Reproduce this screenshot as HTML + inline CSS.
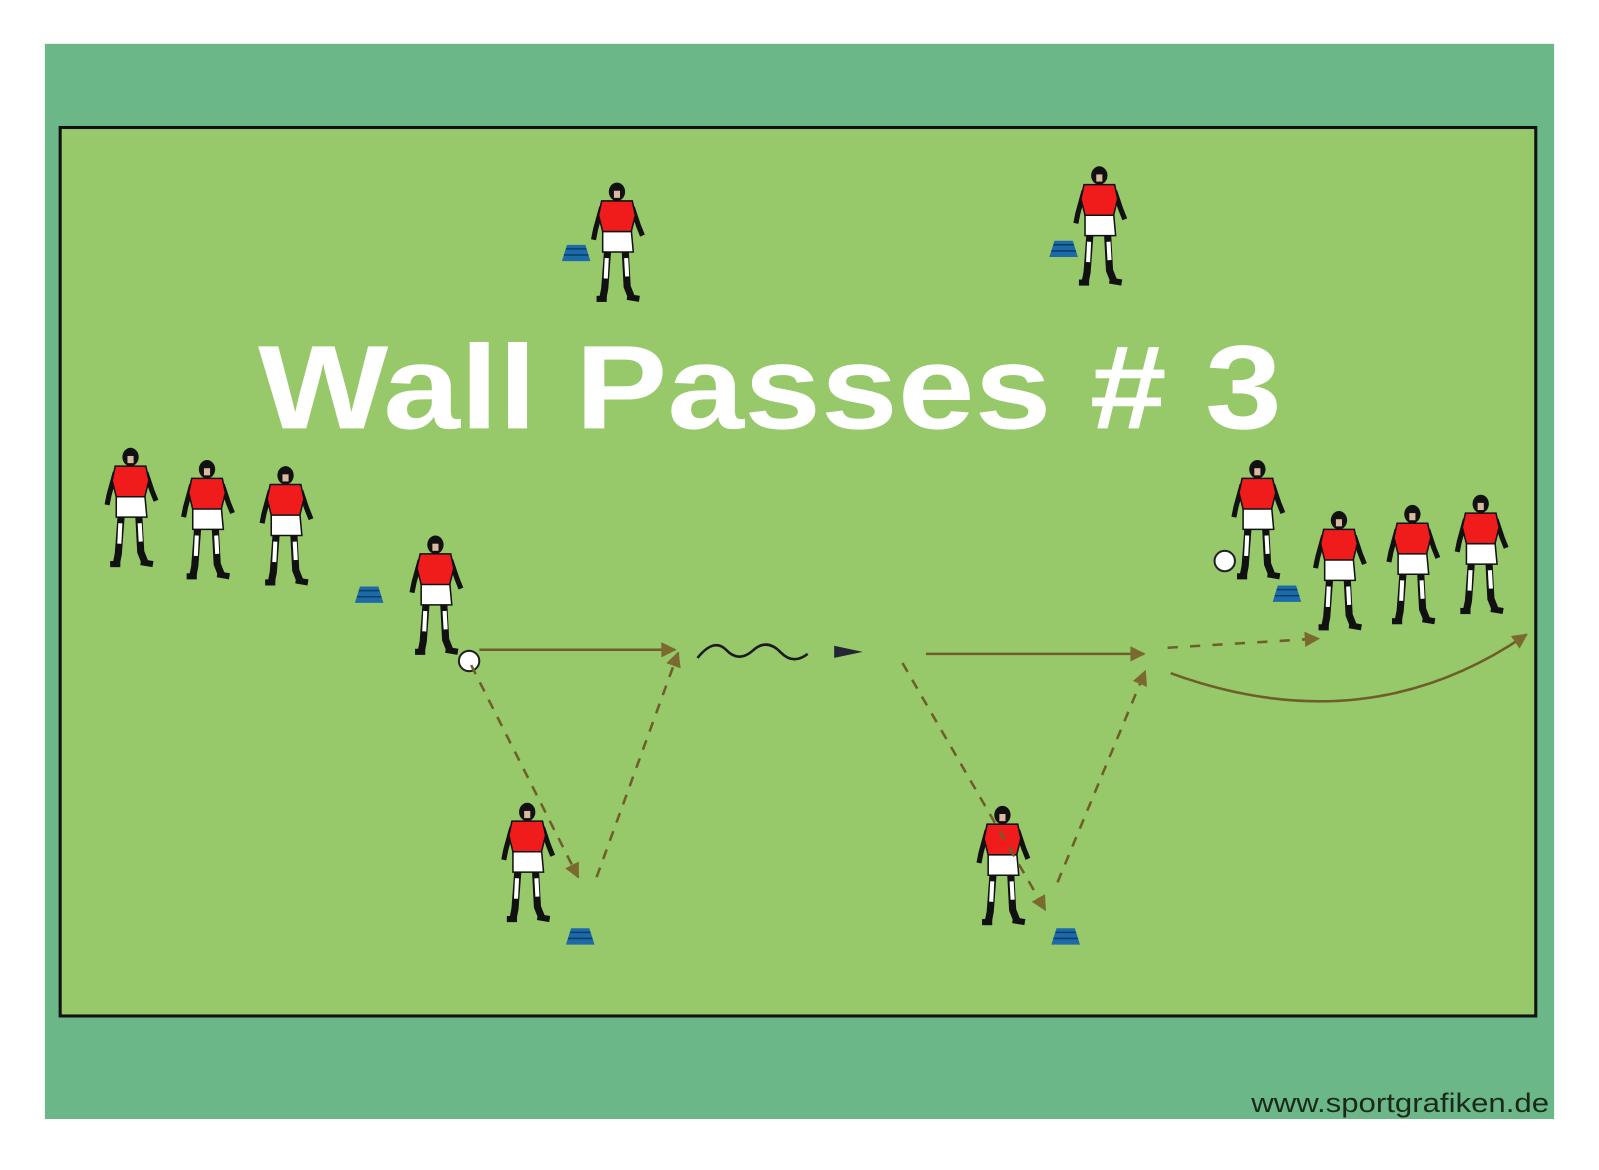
<!DOCTYPE html>
<html><head><meta charset="utf-8"><style>
html,body{margin:0;padding:0;background:#fff;width:1599px;height:1170px;overflow:hidden}
svg{display:block}
</style></head><body>
<svg width="1599" height="1170" viewBox="0 0 1568 1147" preserveAspectRatio="none" xmlns="http://www.w3.org/2000/svg">
<defs>
<g id="p">
  <path d="M-9,62 L-12,102 L-14,112" stroke="#111" stroke-width="7" fill="none"/>
  <path d="M8,62 L10,100 L14,110" stroke="#111" stroke-width="7" fill="none"/>
  <path d="M-10,72 L-11,92" stroke="#fff" stroke-width="4"/>
  <path d="M9,72 L10,90" stroke="#fff" stroke-width="4"/>
  <path d="M-20,112 L-10,112" stroke="#111" stroke-width="6"/>
  <path d="M10,110 L22,112" stroke="#111" stroke-width="6"/>
  <path d="M-15,22 L-21,44 L-23,54" stroke="#111" stroke-width="5" fill="none"/>
  <path d="M15,22 L21,40 L25,50" stroke="#111" stroke-width="5" fill="none"/>
  <path d="M-14,44 L14,44 L16,66 L-14,66 Z" fill="#fff" stroke="#111" stroke-width="1.5"/>
  <path d="M-15,16 L15,16 L18,30 L14,46 L-14,46 L-18,30 Z" fill="#f01c1c" stroke="#111" stroke-width="1.5"/>
  <ellipse cx="0" cy="7" rx="8" ry="9" fill="#111"/>
  <rect x="-3" y="6" width="6" height="7" fill="#d9b9a0"/>
</g>
<g id="c">
  <path d="M-14,8 L-9,-8 L9,-8 L14,8 Z" fill="#1c6aa8"/>
  <path d="M-12,2 L12,2" stroke="#0b3d6a" stroke-width="1.5"/>
  <path d="M-10,-4 L10,-4" stroke="#0b3d6a" stroke-width="1.5"/>
</g>
<marker id="ah" viewBox="0 0 10 10" refX="9" refY="5" markerWidth="30" markerHeight="15" markerUnits="userSpaceOnUse" orient="auto">
  <path d="M0,0 L10,5 L0,10 Z" fill="#7a6a30"/>
</marker>
</defs>
<rect x="44" y="43" width="1480" height="1054" fill="#6bb787"/>
<rect x="59" y="125" width="1447" height="871" fill="#97c96a" stroke="#111" stroke-width="3"/>

<text x="253" y="420" font-family="Liberation Sans, sans-serif" font-weight="bold" font-size="117" fill="#fff" textLength="1004" lengthAdjust="spacingAndGlyphs">Wall Passes # 3</text>

<use href="#c" x="565" y="248"/>
<use href="#c" x="1043" y="244"/>
<use href="#c" x="362" y="583"/>
<use href="#c" x="569" y="918"/>
<use href="#c" x="1045" y="918"/>
<use href="#c" x="1262" y="582"/>

<use href="#p" x="605" y="181"/>
<use href="#p" x="1078" y="165"/>
<use href="#p" x="128" y="441"/>
<use href="#p" x="203" y="453"/>
<use href="#p" x="280" y="459"/>
<use href="#p" x="427" y="527"/>
<use href="#p" x="517" y="789"/>
<use href="#p" x="983" y="792"/>
<use href="#p" x="1233" y="453"/>
<use href="#p" x="1313" y="503"/>
<use href="#p" x="1385" y="497"/>
<use href="#p" x="1452" y="487"/>

<circle cx="460" cy="648" r="10" fill="#fff" stroke="#222" stroke-width="2"/>
<circle cx="1201" cy="550" r="10" fill="#fff" stroke="#222" stroke-width="2"/>

<g stroke="#6e5e2a" stroke-width="2.5" fill="none">
<line x1="470" y1="637" x2="662" y2="637" marker-end="url(#ah)"/>
<line x1="462" y1="652" x2="567" y2="860" stroke-dasharray="10,9" marker-end="url(#ah)"/>
<line x1="585" y1="860" x2="665" y2="640" stroke-dasharray="10,9" marker-end="url(#ah)"/>
<line x1="885" y1="650" x2="1025" y2="892" stroke-dasharray="10,9" marker-end="url(#ah)"/>
<line x1="908" y1="641" x2="1122" y2="641" marker-end="url(#ah)"/>
<line x1="1037" y1="865" x2="1123" y2="658" stroke-dasharray="10,9" marker-end="url(#ah)"/>
<line x1="1145" y1="635" x2="1293" y2="626" stroke-dasharray="10,12" marker-end="url(#ah)"/>
<path d="M1148,660 Q1340,730 1497,622" marker-end="url(#ah)"/>
</g>
<path d="M684,645 Q700,625 712,637 Q724,650 738,638 Q752,625 766,640 Q778,652 792,641" stroke="#1a1a1a" stroke-width="2.5" fill="none"/>
<path d="M818,633 L846,639 L818,645 Z" fill="#252535"/>

<text x="1519" y="1090" text-anchor="end" font-family="Liberation Sans, sans-serif" font-size="26" fill="#1a2a1a" textLength="292" lengthAdjust="spacingAndGlyphs">www.sportgrafiken.de</text>
</svg>
</body></html>
